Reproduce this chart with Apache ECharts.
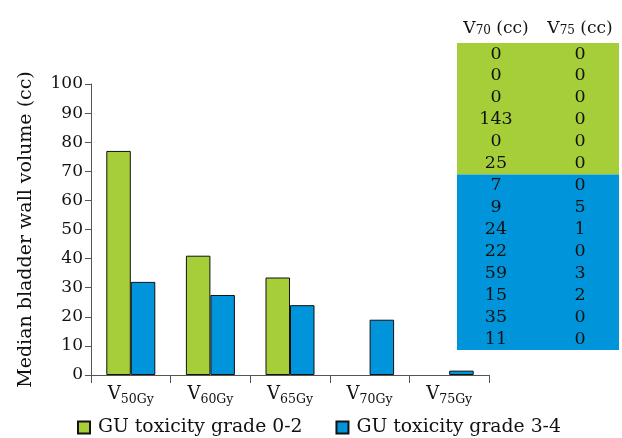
<!DOCTYPE html>
<html><head><meta charset="utf-8">
<script src="https://cdn.jsdelivr.net/npm/echarts@6/dist/echarts.min.js"></script>
<style>html,body{margin:0;padding:0;background:#fff}#c{width:622px;height:438px}</style>
</head><body><div id="c"></div>
<script>
var categories = ['50Gy', '60Gy', '65Gy', '70Gy', '75Gy'];
var seriesNames = ['GU toxicity grade 0-2', 'GU toxicity grade 3-4'];
var grade02 = [77, 41, 33.5, null, null];
var grade34 = [32, 27.5, 24, 19, 1.5];
var yTicks = [0, 10, 20, 30, 40, 50, 60, 70, 80, 90, 100];
var tableHeaders = [['70', ' (cc)'], ['75', ' (cc)']];
var tableV70 = [0, 0, 0, 143, 0, 25, 7, 9, 24, 22, 59, 15, 35, 11];
var tableV75 = [0, 0, 0, 0, 0, 0, 0, 5, 1, 0, 3, 2, 0, 0];
var tableGroup = [0, 0, 0, 0, 0, 0, 1, 1, 1, 1, 1, 1, 1, 1];

var GREEN = '#a6ce39', BLUE = '#0095da';
var FONT = 'DejaVu Serif';
var chart = echarts.init(document.getElementById('c'));

var tX = 457, tW = 162, tY = 43, rowH = 21.93, col1 = 496, col2 = 580;
var g = [];
var groupColors = [GREEN, BLUE];
var start = 0;
for (var i = 1; i <= tableGroup.length; i++) {
  if (i === tableGroup.length || tableGroup[i] !== tableGroup[start]) {
    g.push({type: 'rect', shape: {x: tX, y: tY + start * rowH, width: tW, height: (i - start) * rowH},
      style: {fill: groupColors[tableGroup[start]]}, z: 1});
    start = i;
  }
}
function cellText(x, y, t) {
  return {type: 'text', x: x, y: y, z: 2, style: {text: String(t), fill: '#111', font: '17.5px "' + FONT + '"', align: 'center', verticalAlign: 'middle'}};
}
for (var r = 0; r < tableV70.length; r++) {
  g.push(cellText(col1, tY + (r + 0.5) * rowH, tableV70[r]));
  g.push(cellText(col2, tY + (r + 0.5) * rowH, tableV75[r]));
}
[col1, col2].forEach(function (cx, k) {
  g.push({type: 'text', x: cx, y: 27, z: 2, style: {
    text: '{v|V}{s|' + tableHeaders[k][0] + '}{v|' + tableHeaders[k][1] + '}',
    align: 'center', verticalAlign: 'middle',
    rich: {v: {fontFamily: FONT, fontSize: 17, fill: '#111', verticalAlign: 'bottom'},
           s: {fontFamily: FONT, fontSize: 12, fill: '#111', padding: [8, 0, 0, 0]}}
  }});
});

chart.setOption({
  animation: false,
  textStyle: {fontFamily: FONT},
  grid: {left: 91, right: 133, top: 84, bottom: 63},
  legend: {
    top: 413, left: 72, itemGap: 33, itemWidth: 12, itemHeight: 12,
    icon: 'rect',
    textStyle: {fontFamily: FONT, fontSize: 18.8, color: '#111', padding: [0, 0, 0, 3]},
    data: seriesNames
  },
  xAxis: {
    type: 'category', data: categories,
    axisLine: {lineStyle: {color: '#555', width: 1}},
    axisTick: {show: true, interval: 0, length: 8, lineStyle: {color: '#555'}},
    axisLabel: {
      interval: 0, margin: 8,
      formatter: function (v) { return '{v|V}{s|' + v + '}'; },
      rich: {v: {fontFamily: FONT, fontSize: 18, color: '#111'},
             s: {fontFamily: FONT, fontSize: 12.5, color: '#111', padding: [10, 0, 0, 0]}}
    }
  },
  yAxis: {
    type: 'value', min: 0, max: 100, interval: 10,
    name: 'Median bladder wall volume (cc)', nameLocation: 'middle', nameGap: 55,
    nameTextStyle: {fontFamily: FONT, fontSize: 19, color: '#111'},
    axisLine: {show: true, lineStyle: {color: '#555'}},
    axisTick: {show: true, length: 6, lineStyle: {color: '#555'}},
    splitLine: {show: false},
    axisLabel: {fontFamily: FONT, fontSize: 17, color: '#111', margin: 8,
      formatter: function (v) { return yTicks.indexOf(v) >= 0 ? String(v) : ''; }}
  },
  series: [
    {name: seriesNames[0], type: 'bar', data: grade02, barWidth: 24.5, barGap: '0%',
     itemStyle: {color: GREEN, borderColor: '#111', borderWidth: 1}},
    {name: seriesNames[1], type: 'bar', data: grade34, barWidth: 24.5, barGap: '0%',
     itemStyle: {color: BLUE, borderColor: '#111', borderWidth: 1}}
  ],
  graphic: g
});
</script></body></html>
